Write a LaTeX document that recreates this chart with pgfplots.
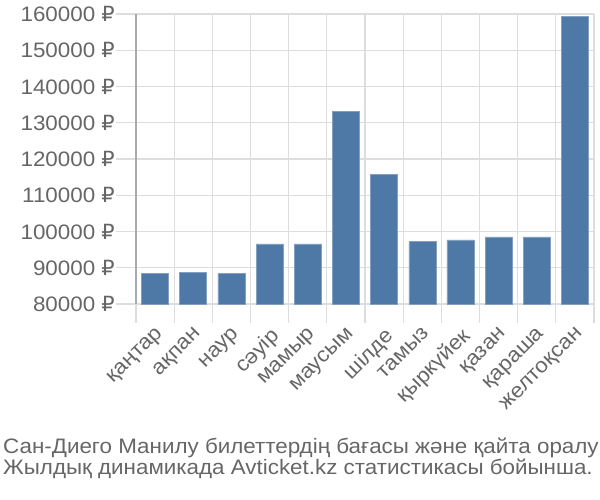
\documentclass[border=0pt]{standalone}
\usepackage{pgfplots}
\pgfplotsset{compat=1.18}
\usepackage{fontspec}
\setmainfont[FakeStretch=1.07]{Liberation Sans}
\newfontfamily\rubfont{DejaVu Sans}
\newcommand{\rub}{{\rubfont ₽}}
\definecolor{barc}{HTML}{4E78A6}
\definecolor{txt}{HTML}{666666}
\definecolor{gridc}{HTML}{DDDDDD}
\definecolor{axc}{HTML}{AAAAAA}
\begin{document}
\begin{tikzpicture}[x=1bp,y=1bp]
\useasboundingbox (-136bp,-196bp) rectangle (464bp,304bp);
\begin{axis}[
  at={(0,0)}, anchor=south west,
  scale only axis, width=458bp, height=290bp,
  xmin=-0.5, xmax=11.5, ymin=80000, ymax=160000,
  scaled y ticks=false,
  axis x line*=bottom, axis y line*=left,
  x axis line style={draw=gridc, line width=1.2bp},
  y axis line style={draw=axc, line width=1.2bp},
  ytick={80000,90000,...,160000},
  yticklabels={80000 \rub,90000 \rub,100000 \rub,110000 \rub,120000 \rub,130000 \rub,140000 \rub,150000 \rub,160000 \rub},
  ymajorgrids, major grid style={draw=gridc, line width=1.2bp},
  ytick style={draw=gridc, line width=1.2bp},
  tick align=outside, major tick length=20bp,
  xtick={0,...,11},
  xticklabels={қаңтар,ақпан,наур,сәуір,мамыр,маусым,шілде,тамыз,қыркүйек,қазан,қараша,желтоқсан},
  x tick style={draw=none},
  minor xtick={-0.5,0.5,...,11.5},
  xminorgrids, minor grid style={draw=gridc, line width=1.2bp},
  minor x tick style={draw=gridc, line width=1.2bp},
  minor tick length=19bp,
  tick label style={font=\fontsize{21}{24}\selectfont, text=txt},
  yticklabel style={anchor=east, inner sep=0pt, xshift=-1bp},
  xticklabel style={xshift=0bp, yshift=-2bp, rotate=45, anchor=north east, inner sep=0pt},
  clip=false,
]
\addplot[ybar, bar width=27bp, fill=barc, draw=barc!70!white, line width=0.5bp, bar shift=0pt] coordinates {
(0,88500) (1,88800) (2,88400) (3,96600) (4,96600) (5,133100)
(6,115800) (7,97200) (8,97700) (9,98500) (10,98500) (11,159300)
};
\end{axis}
\node[anchor=base west, text=txt, font=\fontsize{21}{24}\selectfont, inner sep=0pt] at (-133bp,-149bp) {Сан-Диего Манилу билеттердің бағасы және қайта оралу};
\node[anchor=base west, text=txt, font=\fontsize{21}{24}\selectfont, inner sep=0pt] at (-133bp,-170bp) {Жылдық динамикада Avticket.kz статистикасы бойынша.};
\end{tikzpicture}
\end{document}
